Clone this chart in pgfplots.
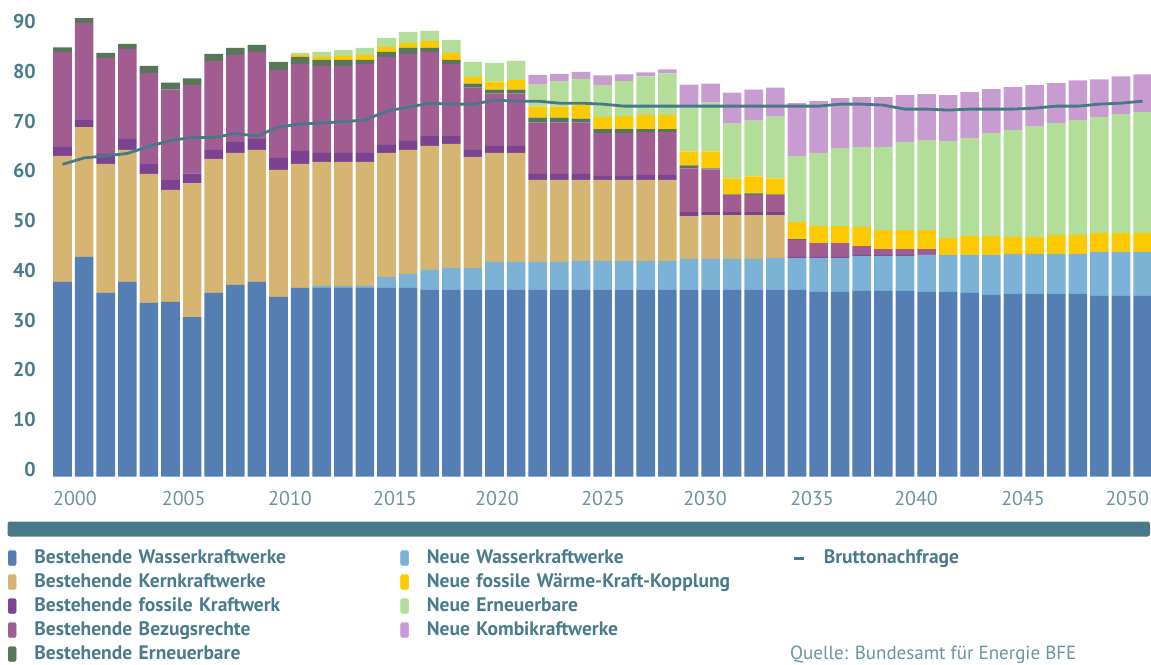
\documentclass[border=0pt]{standalone}
\usepackage{pgfplots}
\usepackage{pgfplotstable}
\pgfplotsset{compat=1.18}
\usepackage{fontspec}
\setmainfont{PT Sans}

\definecolor{cBlue}{HTML}{547EB4}
\definecolor{cLBlue}{HTML}{7BB2D6}
\definecolor{cTan}{HTML}{D6B471}
\definecolor{cFos}{HTML}{7C4392}
\definecolor{cBez}{HTML}{A15D91}
\definecolor{cEE}{HTML}{56775A}
\definecolor{cY}{HTML}{FDC900}
\definecolor{cLG}{HTML}{B2DE9A}
\definecolor{cK}{HTML}{C99CD1}
\definecolor{cLine}{HTML}{47798B}
\definecolor{cText}{HTML}{4A7B8D}
\definecolor{cTick}{HTML}{6A93A3}

\pgfplotstableread{
year blue lb tan fos bez ee wkk lg kombi demand
2000 39.1 0 25.3 1.8 19.1 0.9 0 0 0 62.7
2001 44.1 0 26.1 1.4 19.5 1.0 0 0 0 64.0
2002 36.9 0 25.9 2.0 19.3 1.0 0 0 0 64.4
2003 39.1 0 26.5 2.2 18.1 1.0 0 0 0 64.9
2004 34.9 0 25.9 2.0 18.3 1.4 0 0 0 66.3
2005 35.1 0 22.5 2.0 18.1 1.4 0 0 0 67.5
2006 32.0 0 26.9 2.0 17.7 1.4 0 0 0 68.1
2007 36.9 0 26.9 1.8 17.9 1.4 0 0 0 68.1
2008 38.5 0 26.5 2.2 17.5 1.4 0 0 0 68.9
2009 39.1 0 26.5 2.2 17.5 1.4 0 0 0 68.4
2010 36.1 0 25.5 2.4 17.7 1.6 0 0 0 70.2
2011 37.9 0 24.9 2.6 17.5 1.4 0.4 0.4 0 70.8
2012 37.9 0.4 24.9 1.8 17.5 1.2 0.6 1.0 0 71.0
2013 37.9 0.4 24.9 1.8 17.5 1.2 0.8 1.2 0 71.3
2014 37.9 0.4 24.9 1.8 17.9 0.8 1.0 1.4 0 71.6
2015 37.9 2.2 24.9 1.6 17.7 1.0 1.0 1.8 0 73.4
2016 37.9 2.8 24.9 1.8 17.5 1.2 1.0 2.2 0 74.2
2017 37.5 4.0 24.9 2.0 16.9 0.8 1.4 2.0 0 75.0
2018 37.5 4.4 24.9 1.6 14.5 0.8 1.4 2.6 0 74.8
2019 37.5 4.4 22.3 1.4 12.5 0.8 1.4 3.0 0 74.8
2020 37.5 5.6 21.9 1.4 10.5 0.8 1.6 3.8 0 75.6
2021 37.5 5.6 21.9 1.4 10.5 0.8 2.0 3.8 0 75.4
2022 37.5 5.6 16.5 1.2 10.3 1.0 2.2 4.4 2.0 75.4
2023 37.5 5.6 16.5 1.2 10.3 1.0 2.2 5.0 1.6 75.0
2024 37.5 5.8 16.3 1.2 10.3 0.8 2.8 5.2 1.4 75.0
2025 37.5 5.8 16.3 0.8 8.6 0.8 2.4 6.4 2.0 74.8
2026 37.5 5.8 16.3 0.8 8.6 0.8 2.6 7.0 1.4 74.4
2027 37.5 5.8 16.3 1.0 8.6 0.6 2.8 7.8 0.8 74.4
2028 37.5 5.8 16.3 1.0 8.6 0.6 2.8 8.4 0.8 74.4
2029 37.5 6.2 8.6 0.8 8.8 0.6 2.8 9.2 4.2 74.4
2030 37.5 6.2 8.8 0.6 8.6 0.2 3.4 9.8 3.8 74.4
2031 37.5 6.2 8.8 0.6 3.4 0.2 3.2 11.0 6.2 74.4
2032 37.5 6.2 8.8 0.6 3.4 0.4 3.4 11.2 6.2 74.4
2033 37.5 6.4 8.6 0.6 3.4 0.2 3.2 12.4 5.8 74.4
2034 37.5 6.4 0 0.2 3.4 0.2 3.4 13.3 10.6 74.4
2035 37.1 6.8 0 0.2 2.8 0 3.4 14.7 10.4 74.4
2036 37.1 6.8 0 0.2 2.8 0 3.4 15.7 10.0 74.8
2037 37.3 7.0 0 0.2 1.8 0 3.8 16.1 10.0 74.8
2038 37.3 7.0 0 0.2 1.2 0 3.8 16.7 10.0 74.6
2039 37.3 7.0 0 0.2 1.2 0 3.8 17.7 9.4 73.8
2040 37.1 7.4 0 0 1.2 0 3.8 18.1 9.2 73.8
2041 37.1 7.4 0 0 0 0 3.4 19.5 9.2 73.6
2042 36.9 7.6 0 0 0 0 3.8 19.7 9.2 73.8
2043 36.5 8.0 0 0 0 0 3.8 20.7 8.8 73.8
2044 36.7 8.0 0 0 0 0 3.4 21.5 8.6 73.8
2045 36.7 8.0 0 0 0 0 3.4 22.3 8.2 74.0
2046 36.7 8.0 0 0 0 0 3.8 22.5 8.0 74.4
2047 36.7 8.0 0 0 0 0 3.8 23.1 8.0 74.4
2048 36.3 8.8 0 0 0 0 3.8 23.3 7.6 74.8
2049 36.3 8.8 0 0 0 0 3.8 23.9 7.6 75.0
2050 36.3 8.8 0 0 0 0 3.8 24.3 7.6 75.4
}\data

\pgfplotsset{
  common/.style={
    scale only axis,
    width=1099.3pt, height=476.5pt,
    at={(51.7pt,-476.5pt)}, anchor=south west,
    xmin=1999.5, xmax=2050.39,
    ymin=0, ymax=95.72,
    axis line style={draw=none},
    tick style={draw=none},
  },
  sq/.style={legend image code/.code={\fill[#1, rounded corners=2pt] (0pt,-7.5pt) rectangle (8pt,7.5pt);}},
}

\begin{document}
\begin{tikzpicture}
\useasboundingbox (0,0) rectangle (1151pt,-664pt);
\begin{axis}[common,
  ybar stacked, bar width=18.6pt,
  ytick={0,10,20,30,40,50,60,70,80,90},
  yticklabels={0,10,20,30,40,50,60,70,80,90},
  yticklabel style={anchor=base east, inner sep=0pt, xshift=-15.7pt,
    font=\bfseries\fontsize{20}{24}\selectfont, text=cText},
  xtick={1999.560,2004.593,2009.514,2014.375,2019.097,2024.005,2028.727,2033.681,2038.495,2043.449,2048.264},
  xticklabels={2000,2005,2010,2015,2020,2025,2030,2035,2040,2045,2050},
  xticklabel style={anchor=base west, inner sep=0pt, yshift=-29.2pt,
    font=\fontsize{20}{24}\selectfont, text=cTick},
  legend columns=3,
  legend cell align=left,
  legend style={at={(axis description cs:-0.03975,-0.1522)}, anchor=north west,
    draw=none, fill=none, inner sep=0pt, outer sep=0pt,
    column sep=0pt, row sep=6pt,
    /tikz/every odd column/.append style={column sep=18pt},
    font=\bfseries\fontsize{19.5}{22}\selectfont, text=cText,
    nodes={inner sep=0pt, text width=366pt, align=left, text height=14pt, text depth=4pt}},
]
\addplot[fill=cBlue, draw=none, forget plot] table[x=year, y=blue] {\data};
\addplot[fill=cLBlue, draw=none, forget plot] table[x=year, y=lb] {\data};
\addplot[fill=cTan, draw=none, forget plot] table[x=year, y=tan] {\data};
\addplot[fill=cFos, draw=none, forget plot] table[x=year, y=fos] {\data};
\addplot[fill=cBez, draw=none, forget plot] table[x=year, y=bez] {\data};
\addplot[fill=cEE, draw=none, forget plot] table[x=year, y=ee] {\data};
\addplot[fill=cY, draw=none, forget plot] table[x=year, y=wkk] {\data};
\addplot[fill=cLG, draw=none, forget plot] table[x=year, y=lg] {\data};
\addplot[fill=cK, draw=none, forget plot] table[x=year, y=kombi] {\data};

\addlegendimage{sq=cBlue}\addlegendentry{Bestehende Wasserkraftwerke}
\addlegendimage{sq=cLBlue}\addlegendentry{Neue Wasserkraftwerke}
\addlegendimage{legend image code/.code={\draw[cLine, line width=3pt] (0pt,0pt) -- (10pt,0pt);}}\addlegendentry{Bruttonachfrage}
\addlegendimage{sq=cTan}\addlegendentry{Bestehende Kernkraftwerke}
\addlegendimage{sq=cY}\addlegendentry{Neue fossile Wärme-Kraft-Kopplung}
\addlegendimage{empty legend}\addlegendentry{}
\addlegendimage{sq=cFos}\addlegendentry{Bestehende fossile Kraftwerk}
\addlegendimage{sq=cLG}\addlegendentry{Neue Erneuerbare}
\addlegendimage{empty legend}\addlegendentry{}
\addlegendimage{sq=cBez}\addlegendentry{Bestehende Bezugsrechte}
\addlegendimage{sq=cK}\addlegendentry{Neue Kombikraftwerke}
\addlegendimage{empty legend}\addlegendentry{}
\addlegendimage{sq=cEE}\addlegendentry{Bestehende Erneuerbare}
\end{axis}

\begin{axis}[common, xtick=\empty, ytick=\empty]
\addplot[cLine, line width=2.8pt, line join=round, mark=none] table[x=year, y=demand] {\data};
\end{axis}

\fill[cLine, rounded corners=2.5pt] (7.5pt,-521.5pt) rectangle (1150pt,-536.5pt);
\node[anchor=base west, inner sep=0pt, text=cTick, font=\fontsize{19}{22}\selectfont] at (790pt,-659pt) {Quelle: Bundesamt für Energie BFE};
\end{tikzpicture}
\end{document}
